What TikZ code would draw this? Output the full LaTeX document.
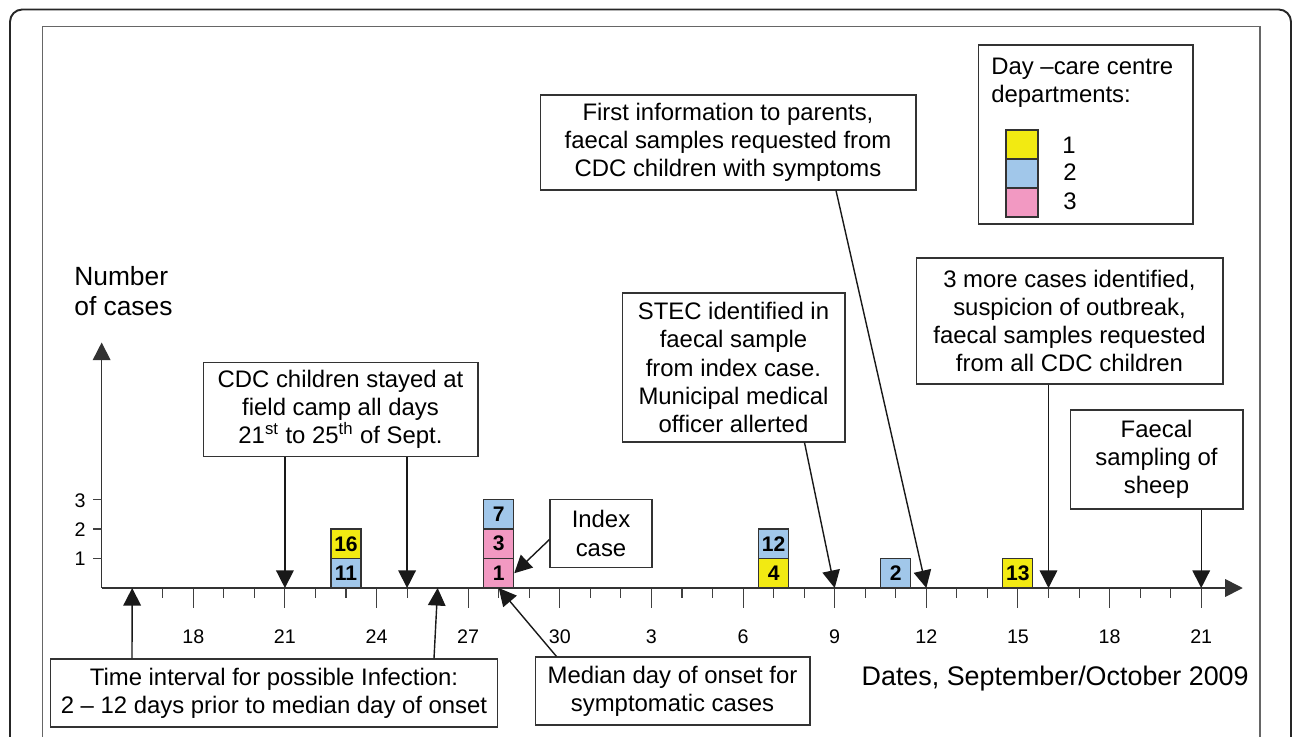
\documentclass[tikz,border=0pt]{standalone}
\usepackage{fontspec}
\setmainfont{Liberation Sans}
\usetikzlibrary{arrows.meta,calc}

\definecolor{deptone}{RGB}{242,234,18}
\definecolor{depttwo}{RGB}{161,199,234}
\definecolor{deptthree}{RGB}{242,153,194}

\begin{document}
\begin{tikzpicture}[x=0.02cm,y=-0.02cm,
  eventbox/.style={draw=black!80,line width=0.6pt,fill=white,align=center,inner sep=0pt,
    font=\fontsize{13.6}{16.1}\selectfont},
  keybox/.style={draw=black!80,line width=0.6pt,inner sep=0pt,minimum width=0.64cm,minimum height=0.58cm},
  keytext/.style={inner sep=0pt,font=\fontsize{13.6}{16.1}\selectfont},
  casebox/.style={draw=black!80,line width=0.6pt,inner sep=0pt,minimum width=0.6cm,minimum height=0.59cm,
    font=\fontsize{12}{14}\selectfont\bfseries},
  datelabel/.style={inner sep=0pt,font=\fontsize{11.2}{13}\selectfont},
  tickline/.style={draw=black!75,line width=0.6pt},
  pointer/.style={draw=black!90,line width=0.8pt,-{Triangle[length=10pt,width=10pt]}},
  axisline/.style={draw=black!80,line width=0.9pt,-{Triangle[length=10pt,width=10pt]}}]
\useasboundingbox (0,0) rectangle (1295,737);
% frames
\draw[black!85,line width=1.1pt,rounded corners=7pt] (10,745) -- (10,9.5) -- (1291,9.5) -- (1291,745);
\draw[black!60,line width=0.9pt] (42.5,745) -- (42.5,26.5) -- (1260,26.5) -- (1260,745);
% time axis, one unit = one day from 15 Sept.
\begin{scope}[shift={(101.65,588)},x=0.611cm]
\coordinate (origin) at (0,0);
\coordinate (sep16) at (1,0);
\coordinate (sep21) at (6,0);
\coordinate (sep25) at (10,0);
\coordinate (sep26) at (11,0);
\coordinate (sep28) at (13,0);
\coordinate (oct9) at (24,0);
\coordinate (oct12) at (27,0);
\coordinate (oct16) at (31,0);
\coordinate (oct21) at (36,0);
\draw[tickline] (1,0) -- (1,10);
\draw[tickline] (2,0) -- (2,10);
\draw[tickline] (3,0) -- (3,20);
\draw[tickline] (4,0) -- (4,10);
\draw[tickline] (5,0) -- (5,10);
\draw[tickline] (6,0) -- (6,20);
\draw[tickline] (7,0) -- (7,10);
\draw[tickline] (8,0) -- (8,10);
\draw[tickline] (9,0) -- (9,20);
\draw[tickline] (10,0) -- (10,10);
\draw[tickline] (11,0) -- (11,10);
\draw[tickline] (12,0) -- (12,20);
\draw[tickline] (13,0) -- (13,10);
\draw[tickline] (14,0) -- (14,10);
\draw[tickline] (15,0) -- (15,20);
\draw[tickline] (16,0) -- (16,10);
\draw[tickline] (17,0) -- (17,10);
\draw[tickline] (18,0) -- (18,20);
\draw[tickline] (19,0) -- (19,10);
\draw[tickline] (20,0) -- (20,10);
\draw[tickline] (21,0) -- (21,20);
\draw[tickline] (22,0) -- (22,10);
\draw[tickline] (23,0) -- (23,10);
\draw[tickline] (24,0) -- (24,20);
\draw[tickline] (25,0) -- (25,10);
\draw[tickline] (26,0) -- (26,10);
\draw[tickline] (27,0) -- (27,20);
\draw[tickline] (28,0) -- (28,10);
\draw[tickline] (29,0) -- (29,10);
\draw[tickline] (30,0) -- (30,20);
\draw[tickline] (31,0) -- (31,10);
\draw[tickline] (32,0) -- (32,10);
\draw[tickline] (33,0) -- (33,20);
\draw[tickline] (34,0) -- (34,10);
\draw[tickline] (35,0) -- (35,10);
\draw[tickline] (36,0) -- (36,20);
\node[datelabel] (lblsep18) at (3,49) {18};
\node[datelabel] (lblsep21) at (6,49) {21};
\node[datelabel] (lblsep24) at (9,49) {24};
\node[datelabel] (lblsep27) at (12,49) {27};
\node[datelabel] (lblsep30) at (15,49) {30};
\node[datelabel] (lbloct3) at (18,49) {3};
\node[datelabel] (lbloct6) at (21,49) {6};
\node[datelabel] (lbloct9) at (24,49) {9};
\node[datelabel] (lbloct12) at (27,49) {12};
\node[datelabel] (lbloct15) at (30,49) {15};
\node[datelabel] (lbloct18) at (33,49) {18};
\node[datelabel] (lbloct21) at (36,49) {21};
% cases, one box per child
\node[casebox,fill=depttwo] (c11) at (8,-14.75) {11};
\node[casebox,fill=deptone] (c16) at (8,-44.25) {16};
\node[casebox,fill=deptthree] (c1) at (13,-14.75) {1};
\node[casebox,fill=deptthree] (c3) at (13,-44.25) {3};
\node[casebox,fill=depttwo] (c7) at (13,-73.75) {7};
\node[casebox,fill=deptone] (c4) at (22,-14.75) {4};
\node[casebox,fill=depttwo] (c12) at (22,-44.25) {12};
\node[casebox,fill=depttwo] (c2) at (26,-14.75) {2};
\node[casebox,fill=deptone] (c13) at (30,-14.75) {13};
\draw[axisline] (origin) -- (0,-245.5);
\draw[axisline] (origin) -- (37.36,0);
\end{scope}
% number of cases
\draw[tickline] (93,558.5) -- (101.65,558.5);
\draw[tickline] (93,529) -- (101.65,529);
\draw[tickline] (93,499.5) -- (101.65,499.5);
\node[datelabel,anchor=east] (ylab1) at (86,559) {1};
\node[datelabel,anchor=east] (ylab2) at (86,530) {2};
\node[datelabel,anchor=east] (ylab3) at (86,500.5) {3};
\node[inner sep=0pt,align=left,anchor=west,font=\fontsize{15}{17.5}\selectfont] (ytitle) at (74,291) {Number\\of cases};
\node[inner sep=0pt,anchor=base east,font=\fontsize{15.3}{17.5}\selectfont] (xtitle) at (1249,685) {Dates, September/October 2009};
% legend
\node[eventbox,minimum width=4.3cm,minimum height=3.58cm] (legend) at (1085.5,134.5) {};
\node[keytext,align=left,anchor=west] (legendtitle) at (991,82.5) {Day –care centre\\departments:};
\node[keybox,fill=deptone] (keyone) at (1022,144.5) {};
\node[keybox,fill=depttwo] (keytwo) at (1022,173.5) {};
\node[keybox,fill=deptthree] (keythree) at (1022,202.5) {};
\node[keytext] (keyonelabel) at (1069,145) {1};
\node[keytext] (keytwolabel) at (1070,172.5) {2};
\node[keytext] (keythreelabel) at (1070,201) {3};
% events
\node[eventbox,minimum width=5.5cm,minimum height=1.88cm] (camp) at (340.5,409.5)
  {CDC children stayed at\\field camp all days\\21\textsuperscript{st} to 25\textsuperscript{th} of Sept.};
\node[eventbox,minimum width=2.04cm,minimum height=1.36cm] (indexbox) at (601,533.5) {Index\\case};
\node[eventbox,minimum width=5.5cm,minimum height=1.36cm] (median) at (672.5,691)
  {Median day of onset for\\symptomatic cases};
\node[eventbox,minimum width=8.96cm,minimum height=1.36cm] (interval) at (274,693)
  {Time interval for possible Infection:\\2 – 12 days prior to median day of onset};
\node[eventbox,minimum width=7.52cm,minimum height=1.9cm] (firstinfo) at (728,142.5)
  {First information to parents,\\faecal samples requested from\\CDC children with symptoms};
\node[eventbox,minimum width=4.46cm,minimum height=2.98cm] (stec) at (733.5,367.5)
  {STEC identified in\\faecal sample\\from index case.\\Municipal medical\\officer allerted};
\node[eventbox,minimum width=6.14cm,minimum height=2.52cm] (morecases) at (1069.5,321)
  {3 more cases identified,\\suspicion of outbreak,\\faecal samples requested\\from all CDC children};
\node[eventbox,minimum width=3.46cm,minimum height=1.98cm] (sheep) at (1156.5,459.5)
  {Faecal\\sampling of\\sheep};
% pointers to the days
\draw[pointer] (camp.south -| sep21) -- (sep21);
\draw[pointer] (camp.south -| sep25) -- (sep25);
\draw[pointer] ($(interval.north)+(-142,0)$) -- (sep16);
\draw[pointer] ($(interval.north)+(160,0)$) -- (sep26);
\draw[pointer] ($(indexbox.west)+(0,6)$) -- (c1.east);
\draw[pointer] ($(median.north)+(-116,0)$) -- (sep28);
\draw[pointer] ($(stec.south)+(71,0)$) -- (oct9);
\draw[pointer] ($(firstinfo.south)+(108,0)$) -- (oct12);
\draw[pointer] (morecases.south -| oct16) -- (oct16);
\draw[pointer] (sheep.south -| oct21) -- (oct21);
\end{tikzpicture}
\end{document}
